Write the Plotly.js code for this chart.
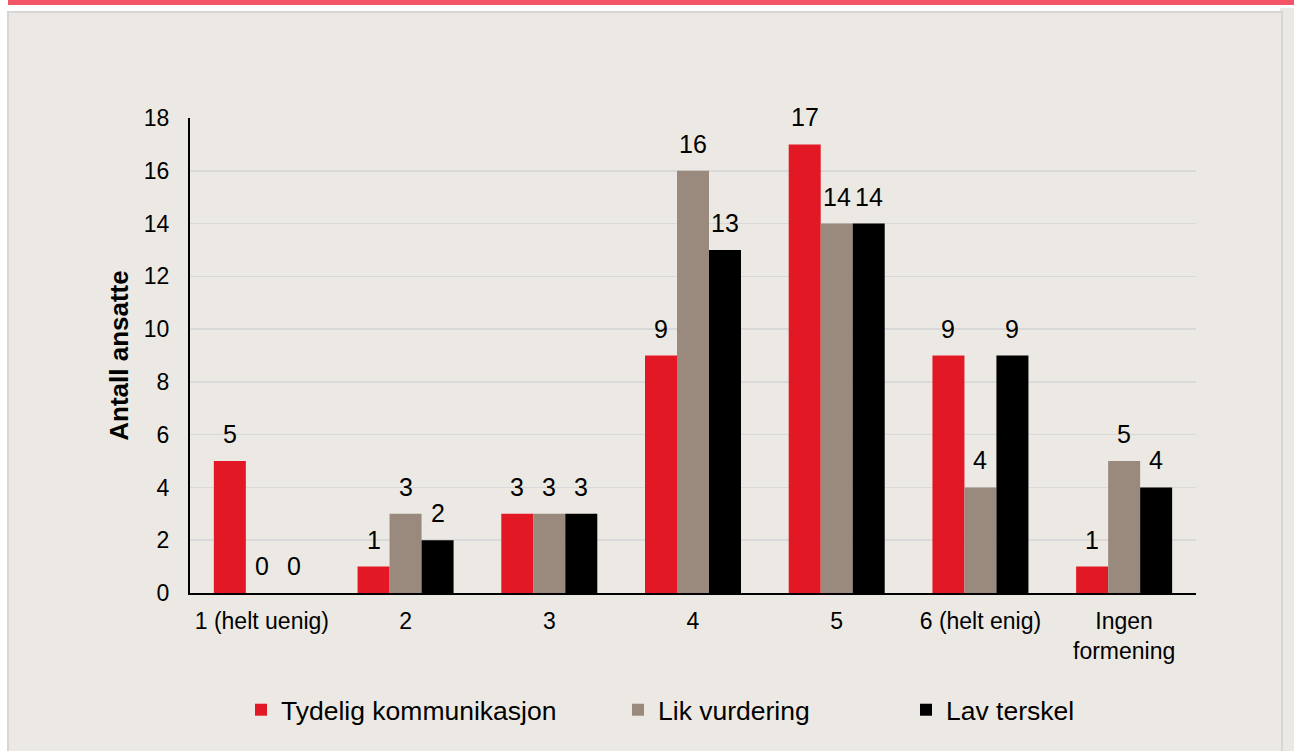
<!DOCTYPE html>
<html>
<head>
<meta charset="utf-8">
<script src="https://cdn.plot.ly/plotly-3.0.1.min.js"></script>
<style>
  html, body { margin:0; padding:0; background:#ffffff; width:1294px; height:751px; overflow:hidden; }
  #stripe { position:absolute; left:8px; top:0; width:1286px; height:5px; background:#f25566; }
  #rightbg { position:absolute; left:1280px; top:8px; width:14px; height:743px; background:#ece9e4; }
  #panel { position:absolute; left:7px; top:11px; width:1276px; height:760px; background:#ece9e4; border:2px solid #d6d6d4; border-bottom:none; box-sizing:border-box; }
  #chart { position:absolute; left:0; top:0; width:1294px; height:751px; }
</style>
</head>
<body>
<div id="stripe"></div>
<div id="rightbg"></div>
<div id="panel"></div>
<div id="chart"></div>
<script>
const categories = ["1 (helt uenig)", "2", "3", "4", "5", "6 (helt enig)", "Ingen<br>formening"];
const seriesNames = ["Tydelig kommunikasjon", "Lik vurdering", "Lav terskel"];
const tydelig = [5, 1, 3, 9, 17, 9, 1];
const lik = [0, 3, 3, 16, 14, 4, 5];
const lav = [0, 2, 3, 13, 14, 9, 4];
const colors = ["#e31825", "#9a8a7e", "#000000"];
const yTicks = [0, 2, 4, 6, 8, 10, 12, 14, 16, 18];

const font = "Liberation Sans, Arial, sans-serif";
const values = [tydelig, lik, lav];
const legendIds = ["legend", "legend2", "legend3"];
const bargap = 0.332;

const traces = values.map((v, i) => ({
  type: "bar",
  name: seriesNames[i],
  x: categories,
  y: v,
  marker: { color: colors[i] },
  legend: legendIds[i],
  hoverinfo: "none"
}));

// value labels above each bar, placed at the same grouped positions the bars use
const barW = (1 - bargap) / values.length;
const annotations = [];
values.forEach((v, k) => {
  v.forEach((val, i) => {
    annotations.push({
      xref: "x", yref: "y",
      x: i + (k - (values.length - 1) / 2) * barW,
      y: val,
      text: String(val),
      showarrow: false,
      xanchor: "center", yanchor: "bottom",
      yshift: 11,
      font: { family: font, size: 25, color: "#000" }
    });
  });
});

const legendBase = { orientation: "h", xref: "container", yref: "container", yanchor: "middle",
  bgcolor: "rgba(0,0,0,0)", font: { family: font, size: 26.5, color: "#000" }, itemwidth: 30 };

const layout = {
  width: 1294, height: 751,
  margin: { l: 190, r: 98, t: 118, b: 158 },
  paper_bgcolor: "rgba(0,0,0,0)",
  plot_bgcolor: "rgba(0,0,0,0)",
  barmode: "group",
  bargap: bargap,
  bargroupgap: 0,
  showlegend: true,
  font: { family: font, color: "#000" },
  annotations: annotations,
  xaxis: {
    type: "category",
    showline: true, linecolor: "#000", linewidth: 2,
    showgrid: false, ticks: "",
    tickfont: { family: font, size: 23, color: "#000" },
    ticklabelstandoff: 6,
    fixedrange: true
  },
  yaxis: {
    range: [0, 18],
    tickvals: yTicks,
    showline: true, linecolor: "#000", linewidth: 2,
    showgrid: true, gridcolor: "#d9d9d9", gridwidth: 1.5,
    zeroline: false, ticks: "",
    tickfont: { family: font, size: 23, color: "#000" },
    ticklabelstandoff: 14,
    title: { text: "Antall ansatte", font: { family: font, size: 26, color: "#000", weight: "bold" }, standoff: 8 },
    fixedrange: true
  },
  legend: Object.assign({}, legendBase, { x: 241 / 1294, y: 1 - 710 / 751 }),
  legend2: Object.assign({}, legendBase, { x: 618 / 1294, y: 1 - 710 / 751 }),
  legend3: Object.assign({}, legendBase, { x: 906 / 1294, y: 1 - 710 / 751 })
};

Plotly.newPlot("chart", traces, layout, { displayModeBar: false, staticPlot: true });
</script>
</body>
</html>
